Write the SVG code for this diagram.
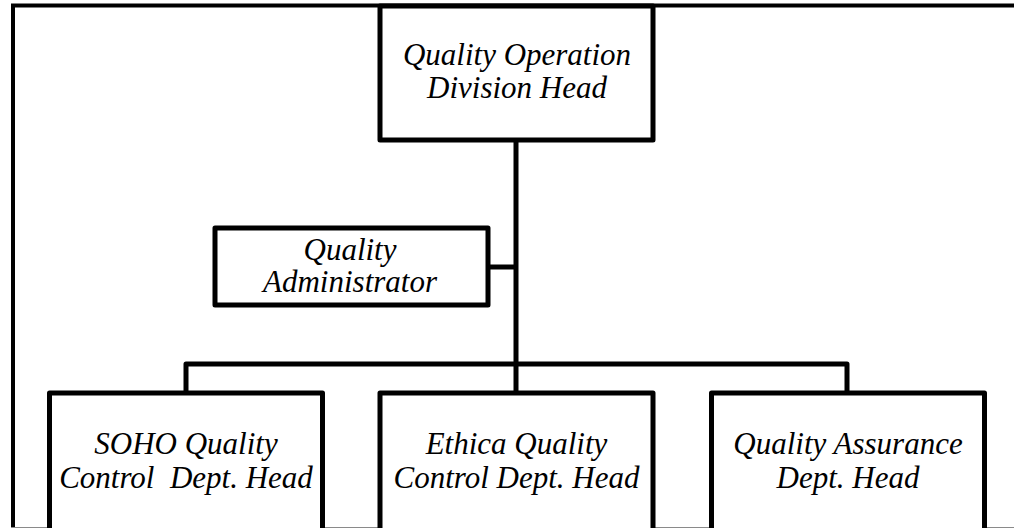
<svg xmlns="http://www.w3.org/2000/svg" width="1014" height="528" viewBox="0 0 1014 528">
  <style>
    .box { fill: #ffffff; stroke: #000000; stroke-width: 5; stroke-linejoin: round; }
    .wire { fill: none; stroke: #000000; stroke-width: 5; stroke-linejoin: round; }
    .frame { fill: none; stroke: #000000; stroke-width: 4; }
    .label { font-family: "Liberation Serif", "Times New Roman", serif; font-style: italic; font-size: 31px; fill: #000000; text-anchor: middle; white-space: pre; }
  </style>

  <rect x="0" y="0" width="1014" height="528" fill="#ffffff"/>

  <!-- page frame -->
  <path class="frame" d="M13,528 V5.5 H1014"/>
  <line x1="11" y1="527.5" x2="1014" y2="527.5" stroke="#8a8a8a" stroke-width="1"/>

  <!-- connectors -->
  <g id="connectors">
    <line class="wire" x1="516" y1="140" x2="516" y2="393"/>
    <line class="wire" x1="488" y1="267" x2="516" y2="267"/>
    <path class="wire" d="M186,393 V364 H847 V393"/>
  </g>

  <g id="division-head">
    <rect class="box" x="380" y="6" width="273" height="134"/>
    <text class="label" x="517" y="65">Quality Operation</text>
    <text class="label" x="517" y="98">Division Head</text>
  </g>

  <g id="quality-administrator">
    <rect class="box" x="215" y="228" width="273" height="77"/>
    <text class="label" x="350" y="260">Quality</text>
    <text class="label" x="350" y="292">Administrator</text>
  </g>

  <g id="soho-qc-head">
    <rect class="box" x="49.5" y="393" width="273" height="160"/>
    <text class="label" x="186" y="454">SOHO Quality</text>
    <text class="label" x="186" y="488" xml:space="preserve">Control  Dept. Head</text>
  </g>

  <g id="ethica-qc-head">
    <rect class="box" x="380" y="393" width="273" height="160"/>
    <text class="label" x="516.5" y="454">Ethica Quality</text>
    <text class="label" x="516.5" y="488">Control Dept. Head</text>
  </g>

  <g id="qa-head">
    <rect class="box" x="711.5" y="393" width="273" height="160"/>
    <text class="label" x="848" y="454">Quality Assurance</text>
    <text class="label" x="848" y="488">Dept. Head</text>
  </g>
</svg>
